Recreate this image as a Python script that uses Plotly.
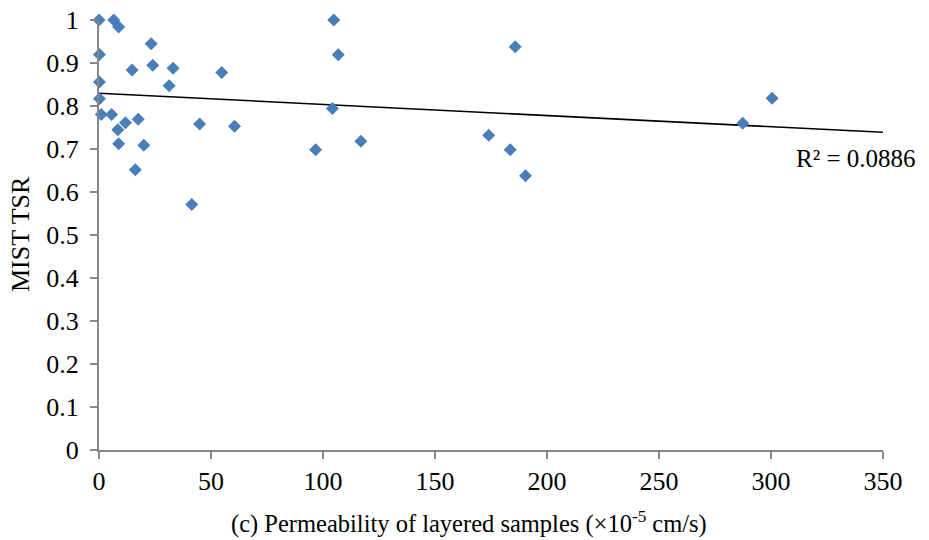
import numpy as np
import plotly.graph_objects as go

permeability = [0, 6.6, 8.8, 23.3, 0.2, 24.0, 14.8, 33.1, 54.8, 0.2, 31.3, 0.2,
                1.0, 5.6, 11.8, 17.5, 8.4, 44.9, 60.5, 8.8, 20.0, 16.2, 41.4,
                104.8, 106.8, 104.2, 116.9, 96.7,
                185.8, 174.0, 183.6, 190.4,
                300.5, 287.4]
tsr = [1.0, 1.0, 0.984, 0.945, 0.920, 0.895, 0.884, 0.888, 0.878, 0.856, 0.847, 0.817,
       0.780, 0.780, 0.761, 0.769, 0.745, 0.758, 0.753, 0.712, 0.709, 0.652, 0.571,
       1.0, 0.919, 0.794, 0.718, 0.698,
       0.938, 0.732, 0.698, 0.638,
       0.818, 0.760]

x_ticks = [0, 50, 100, 150, 200, 250, 300, 350]
y_ticks = [0, 0.1, 0.2, 0.3, 0.4, 0.5, 0.6, 0.7, 0.8, 0.9, 1.0]
y_tick_labels = ["0", "0.1", "0.2", "0.3", "0.4", "0.5", "0.6", "0.7", "0.8", "0.9", "1"]
r2_label = "R² = 0.0886"
x_title = "(c) Permeability of layered samples (×10<sup>-5</sup> cm/s)"
y_title = "MIST TSR"

slope, intercept = np.polyfit(permeability, tsr, 1)
trend_x = [0, 350]
trend_y = [intercept + slope * v for v in trend_x]

font = "Liberation Serif, Times New Roman, serif"
axis_color = "#878787"

W, H = 929, 540
L, R, T, B = 99, 46, 20, 90
pw, ph = W - L - R, H - T - B


def px_to_paper(px, py):
    return (px - L) / pw, (H - B - py) / ph


fig = go.Figure()
fig.add_trace(go.Scatter(x=trend_x, y=trend_y, mode="lines",
                         line=dict(color="black", width=1.6), showlegend=False, cliponaxis=False))
fig.add_trace(go.Scatter(x=permeability, y=tsr, mode="markers",
                         marker=dict(symbol="diamond", size=10, color="#4A7EBB"),
                         showlegend=False, cliponaxis=False))

rx, ry = px_to_paper(918, 158)
fig.add_annotation(x=rx, y=ry, xref="paper", yref="paper", text=r2_label, showarrow=False,
                   font=dict(family=font, size=25, color="black"), xanchor="right", yanchor="middle")
tx, ty = px_to_paper(469, 522)
fig.add_annotation(x=tx, y=ty, xref="paper", yref="paper", text=x_title, showarrow=False,
                   font=dict(family=font, size=24.5, color="black"), xanchor="center", yanchor="middle")
yx, yy = px_to_paper(21, 234)
fig.add_annotation(x=yx, y=yy, xref="paper", yref="paper", text=y_title, showarrow=False, textangle=-90,
                   font=dict(family=font, size=26, color="black"), xanchor="center", yanchor="middle")

fig.update_layout(
    width=W, height=H,
    margin=dict(l=L, r=R, t=T, b=B),
    paper_bgcolor="white", plot_bgcolor="white",
    font=dict(family=font, size=26, color="black"),
    xaxis=dict(range=[0, 350], tickvals=x_ticks, ticktext=[str(v) for v in x_ticks],
               automargin=False,
               showgrid=False, zeroline=False, showline=True, linecolor=axis_color, linewidth=2,
               ticks="outside", ticklen=7, tickcolor=axis_color, tickwidth=1.5,
               tickfont=dict(family=font, size=26, color="black")),
    yaxis=dict(range=[0, 1], tickvals=y_ticks, ticktext=y_tick_labels,
               automargin=False,
               showgrid=False, zeroline=False, showline=True, linecolor=axis_color, linewidth=2,
               ticks="outside", ticklen=7, tickcolor=axis_color, tickwidth=1.5,
               ticklabelstandoff=6,
               tickfont=dict(family=font, size=26, color="black")),
)

fig.write_html("out.html")
